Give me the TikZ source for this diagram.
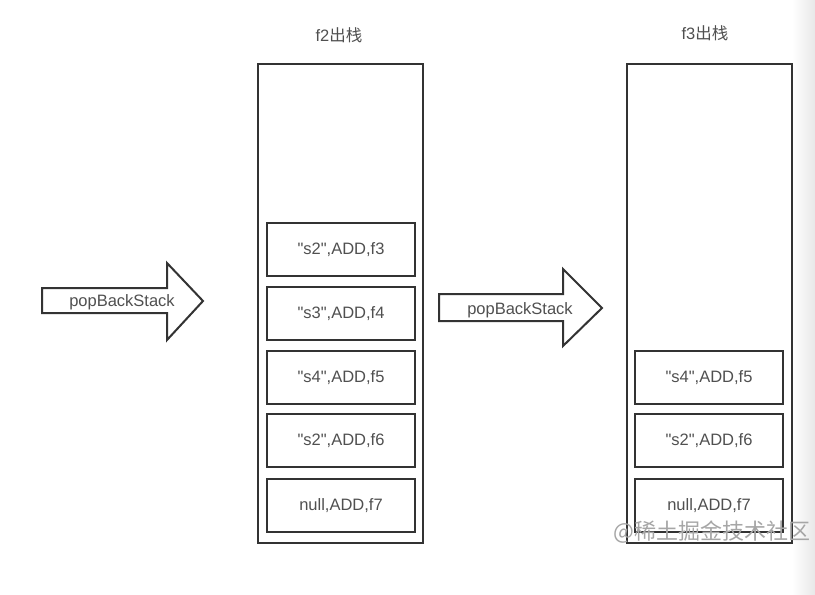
\documentclass[tikz,border=0pt]{standalone}
\usepackage{fontspec}
\setmainfont{Liberation Sans}[Ligatures=TeXOff]
\newfontfamily\cjk{Noto Sans CJK SC}
\definecolor{edge}{HTML}{333333}
\definecolor{txt}{HTML}{505050}
\newcommand{\dq}{\symbol{34}}
\begin{document}
\begin{tikzpicture}[x=1pt,y=-1pt,
  outerbox/.style={draw=edge,line width=2pt,minimum width=165pt,minimum height=479pt,inner sep=0pt,anchor=north west},
  itembox/.style={draw=edge,line width=2pt,minimum width=148pt,minimum height=53pt,inner sep=0pt,anchor=north west,text=txt,font=\fontsize{16.5}{18}\selectfont},
  bigarrow/.style={draw=edge,line width=2pt,fill=white,line join=miter},
  lbl/.style={text=txt,font=\fontsize{16.5}{18}\selectfont,inner sep=0pt},
  title/.style={text=txt,font=\fontsize{16.5}{18}\selectfont,inner sep=0pt}]
\useasboundingbox (0,0) rectangle (815,595);
\fill[white] (0,0) rectangle (815,595);
\shade[left color=white,right color=black!9] (792,0) rectangle (815,595);
% titles
\node[title] (t2) at (339,35) {f2\cjk 出栈};
\node[title] (t3) at (705,33) {f3\cjk 出栈};
% left stack
\node[outerbox] (s2) at (257,63) {};
\node[itembox] (a1) at (266,222) {\dq s2\dq,ADD,f3};
\node[itembox] (a2) at (266,286) {\dq s3\dq,ADD,f4};
\node[itembox] (a3) at (266,350) {\dq s4\dq,ADD,f5};
\node[itembox] (a4) at (266,413) {\dq s2\dq,ADD,f6};
\node[itembox] (a5) at (266,478) {null,ADD,f7};
% right stack
\node[outerbox] (s3) at (626,63) {};
\node[itembox] (b3) at (634,350) {\dq s4\dq,ADD,f5};
\node[itembox] (b4) at (634,413) {\dq s2\dq,ADD,f6};
\node[itembox] (b5) at (634,478) {null,ADD,f7};
% arrows
\draw[bigarrow] (42,288) -- (167,288) -- (167,263) -- (203,301) -- (167,340) -- (167,313) -- (42,313) -- cycle;
\node[lbl] (p1) at (122,302) {popBackStack};
\draw[bigarrow] (439,294) -- (563,294) -- (563,269) -- (602,308) -- (563,346) -- (563,321) -- (439,321) -- cycle;
\node[lbl] (p2) at (520,310) {popBackStack};
% watermark
\node[text=black!35,font=\cjk\fontsize{22}{24}\selectfont,inner sep=0pt] (wm) at (712,532) {@稀土掘金技术社区};
\end{tikzpicture}
\end{document}
